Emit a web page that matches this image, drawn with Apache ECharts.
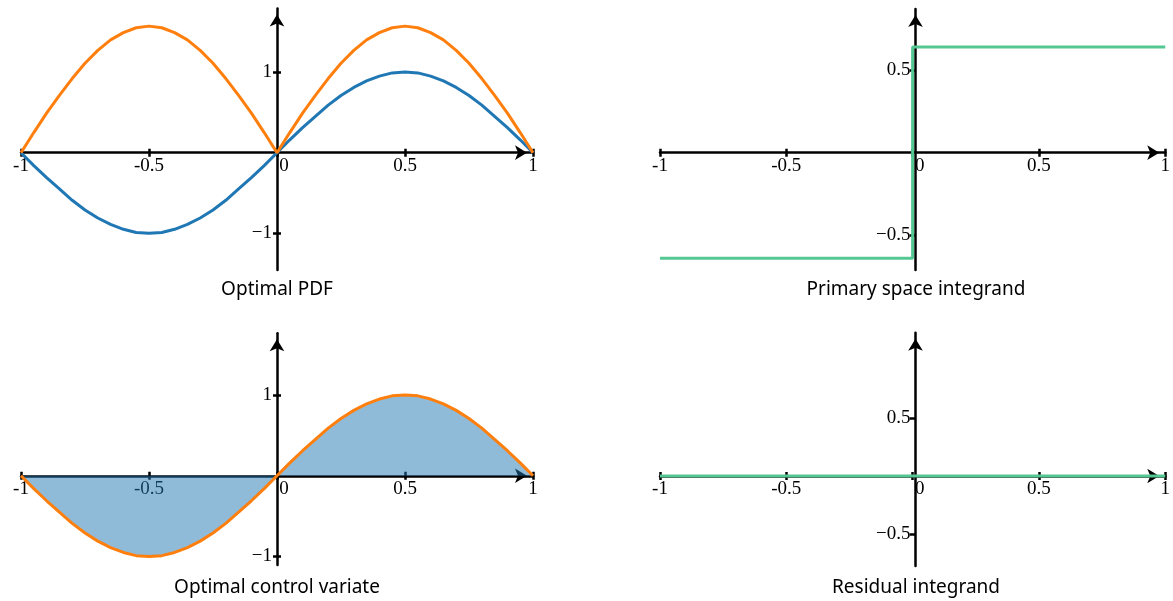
<!DOCTYPE html>
<html>
<head>
<meta charset="utf-8">
<script src="https://cdn.jsdelivr.net/npm/echarts@6/dist/echarts.min.js"></script>
<style>html,body{margin:0;padding:0;background:#fff}#c{width:1173px;height:601px}</style>
</head>
<body>
<div id="c"></div>
<script>
// ---- data ----
const xs = [-1,-0.95,-0.9,-0.85,-0.8,-0.75,-0.7,-0.65,-0.6,-0.55,-0.5,-0.45,-0.4,-0.35,-0.3,-0.25,-0.2,-0.15,-0.1,-0.05,0,
            0.05,0.1,0.15,0.2,0.25,0.3,0.35,0.4,0.45,0.5,0.55,0.6,0.65,0.7,0.75,0.8,0.85,0.9,0.95,1];
const pdfBlue = [0,-0.16,-0.31,-0.45,-0.59,-0.71,-0.81,-0.89,-0.95,-0.99,-1.00,-0.99,-0.95,-0.89,-0.81,-0.71,-0.59,-0.45,-0.31,-0.16,0,
                 0.16,0.31,0.45,0.59,0.71,0.81,0.89,0.95,0.99,1.00,0.99,0.95,0.89,0.81,0.71,0.59,0.45,0.31,0.16,0];
const pdfOrange = [0,0.25,0.49,0.71,0.92,1.11,1.27,1.40,1.49,1.55,1.57,1.55,1.49,1.40,1.27,1.11,0.92,0.71,0.49,0.25,0,
                   0.25,0.49,0.71,0.92,1.11,1.27,1.40,1.49,1.55,1.57,1.55,1.49,1.40,1.27,1.11,0.92,0.71,0.49,0.25,0];
const controlVariate = [0,-0.16,-0.31,-0.45,-0.59,-0.71,-0.81,-0.89,-0.95,-0.99,-1.00,-0.99,-0.95,-0.89,-0.81,-0.71,-0.59,-0.45,-0.31,-0.16,0,
                        0.16,0.31,0.45,0.59,0.71,0.81,0.89,0.95,0.99,1.00,0.99,0.95,0.89,0.81,0.71,0.59,0.45,0.31,0.16,0];
const primaryX = [-1, 0, 0, 1];
const primaryY = [-0.64, -0.64, 0.64, 0.64];
const residualX = [-1, 1];
const residualY = [0, 0];
const xTicks = [-1, -0.5, 0, 0.5, 1];
const yTicksA = [-1, 1];
const yTicksB = [-0.5, 0.5];
const titles = ['Optimal PDF', 'Primary space integrand', 'Optimal control variate', 'Residual integrand'];

const BLUE = '#1f77b4', ORANGE = '#ff7f0e', GREEN = '#55c792';
const TICKFONT = 'Liberation Serif';
const TICKSIZE = 19;

// panel layout
const panels = [
  {left: 21,  width: 512, top: 8.4,   height: 261.6, ymin: -1.455, ymax: 1.79,  yt: yTicksA},
  {left: 660, width: 511, top: 9,     height: 261,   ymin: -0.711, ymax: 0.871, yt: yTicksB},
  {left: 21,  width: 512, top: 333.3, height: 231.8, ymin: -1.107, ymax: 1.765, yt: yTicksA},
  {left: 660, width: 511, top: 332.7, height: 233.3, ymin: -0.776, ymax: 1.235, yt: yTicksB}
];

const grid = [], xAxis = [], yAxis = [];
const lineStyle = {color: '#000', width: 2.5};
const tickStyle = {color: '#000', width: 2.5};
panels.forEach((p, i) => {
  grid.push({left: p.left, top: p.top, width: p.width, height: p.height, containLabel: false});
  const zeroFromTop = p.height * p.ymax / (p.ymax - p.ymin);
  const zeroFromBottom = p.height - zeroFromTop;
  const zeroFromSide = p.width / 2;
  // main x axis (moved onto y = 0 via offset)
  xAxis.push({
    type: 'value', gridIndex: i, min: xTicks[0], max: xTicks[xTicks.length - 1], interval: 0.5, position: 'bottom',
    offset: -zeroFromBottom,
    axisLine: {onZero: false, lineStyle, symbol: ['none', 'arrow'], symbolSize: [11, 12], symbolOffset: [0, -6]},
    axisTick: {show: true, length: 4, lineStyle: tickStyle},
    axisLabel: {
      show: true, margin: 4, color: '#000', fontFamily: TICKFONT, fontSize: TICKSIZE,
      formatter: v => v === 0 ? '{z|0}' : String(v),
      rich: {z: {padding: [0, 0, 0, 14], fontFamily: TICKFONT, fontSize: TICKSIZE, color: '#000'}}
    },
    splitLine: {show: false}
  });
  // secondary x axis for the upper tick halves
  xAxis.push({
    type: 'value', gridIndex: i, min: xTicks[0], max: xTicks[xTicks.length - 1], interval: 0.5, position: 'top',
    offset: -zeroFromTop,
    axisLine: {show: false, onZero: false},
    axisTick: {show: true, length: 4, lineStyle: tickStyle},
    axisLabel: {show: false}, splitLine: {show: false}
  });
  yAxis.push({
    type: 'value', gridIndex: i, min: p.ymin, max: p.ymax, position: 'left',
    offset: -zeroFromSide,
    axisLine: {onZero: false, lineStyle, symbol: ['none', 'arrow'], symbolSize: [11, 12], symbolOffset: [0, -6]},
    axisTick: {show: true, length: 4, customValues: p.yt, lineStyle: tickStyle},
    axisLabel: {show: true, margin: 5, customValues: p.yt, color: '#000', fontFamily: TICKFONT, fontSize: TICKSIZE,
      formatter: v => (v < 0 ? '\u2212' + String(-v) : String(v))},
    splitLine: {show: false}
  });
  yAxis.push({
    type: 'value', gridIndex: i, min: p.ymin, max: p.ymax, position: 'right',
    offset: -zeroFromSide,
    axisLine: {show: false, onZero: false},
    axisTick: {show: true, length: 4, customValues: p.yt, lineStyle: tickStyle},
    axisLabel: {show: false}, splitLine: {show: false}
  });
});

const zip = (a, b) => a.map((v, k) => [v, b[k]]);
const base = {type: 'line', showSymbol: false, symbol: 'none', animation: false, z: 5, clip: false};
const series = [
  Object.assign({}, base, {xAxisIndex: 0, yAxisIndex: 0, data: zip(xs, pdfBlue), lineStyle: {color: BLUE, width: 3}}),
  Object.assign({}, base, {xAxisIndex: 0, yAxisIndex: 0, data: zip(xs, pdfOrange), lineStyle: {color: ORANGE, width: 3}}),
  Object.assign({}, base, {xAxisIndex: 2, yAxisIndex: 2, data: zip(primaryX, primaryY), lineStyle: {color: GREEN, width: 3}}),
  Object.assign({}, base, {xAxisIndex: 4, yAxisIndex: 4, data: zip(xs, controlVariate), lineStyle: {color: ORANGE, width: 3},
    areaStyle: {color: BLUE, opacity: 0.5}}),
  Object.assign({}, base, {xAxisIndex: 6, yAxisIndex: 6, data: zip(residualX, residualY), lineStyle: {color: GREEN, width: 3}})
];

const titlePos = [[277, 290], [916, 290], [277, 588], [916, 588]];
const graphic = titles.map((t, i) => ({
  type: 'text', x: titlePos[i][0], y: titlePos[i][1], silent: true,
  style: {text: t, fill: '#000', font: '19px "Noto Sans"', textAlign: 'center', textVerticalAlign: 'middle'}
}));

const chart = echarts.init(document.getElementById('c'), null, {renderer: 'canvas'});
chart.setOption({animation: false, backgroundColor: '#fff', grid, xAxis, yAxis, series, graphic});
</script>
</body>
</html>
